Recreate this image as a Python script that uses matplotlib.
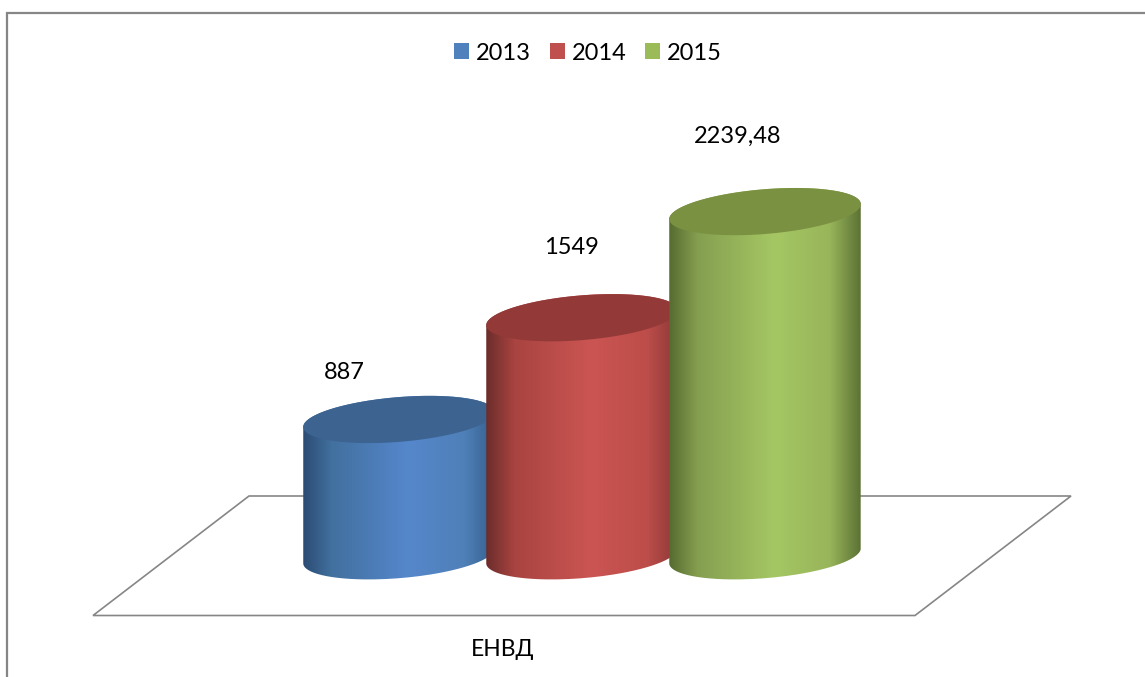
import numpy as np
import matplotlib
matplotlib.use("Agg")
import matplotlib.pyplot as plt
from matplotlib.colors import LinearSegmentedColormap
from matplotlib.patches import Patch, PathPatch, Polygon
from matplotlib.path import Path

plt.rcParams['font.family'] = ['Lato', 'Open Sans', 'DejaVu Sans']

# data
category = "ЕНВД"
years = ["2013", "2014", "2015"]
values = [887, 1549, 2239.48]
value_labels = ["887", "1549", "2239,48"]

# look
legend_colors = ["#4f81bd", "#c0504d", "#9bbb59"]
top_colors = ["#3d6391", "#933a38", "#7a9142"]
side_stops = [
	["#2b4c74", "#42709f", "#5587cc", "#4f80b8", "#36608e"],
	["#6c2d2b", "#a94441", "#cb5552", "#bd4d4a", "#8c3937"],
	["#566b30", "#859f50", "#a5c763", "#98b55a", "#5c7234"],
]
line_color = "#868686"

W, H = 1145, 677
BASE_Y = 555.8      # pixel row of value 0
PX_PER_UNIT = 0.1537
FIRST_X = 399
STEP_X = 183
RX, RY, SHEAR = 95.75, 22.4, 7.5

# label offsets from the top of each cylinder, in pixels
label_dx = [-55, -10.5, -27.5]
label_dy = [46.5, 70, 75]


def ellipse(cx, value, t):
	x = cx + RX * np.cos(t)
	y = value + (SHEAR * np.cos(t) - RY * np.sin(t)) / PX_PER_UNIT
	return x, y


def draw_cylinder(ax, cx, value, i):
	# back arc of the top, then front arc of the base
	xt, yt = ellipse(cx, value, np.linspace(np.pi, 2 * np.pi, 80))
	xb, yb = ellipse(cx, 0, np.linspace(0, np.pi, 80))
	body = np.column_stack([np.r_[xt, xb], np.r_[yt, yb]])

	cmap = LinearSegmentedColormap.from_list(
		"side", list(zip([0, 0.15, 0.55, 0.84, 1], side_stops[i])))
	grad = np.linspace(0, 1, 256).reshape(1, -1)
	im = ax.imshow(grad, cmap=cmap, aspect='auto', zorder=2 + i,
		extent=[cx - RX, cx + RX, -500, 3500], interpolation='bilinear')
	clip = PathPatch(Path(body), transform=ax.transData, fc='none', ec='none')
	ax.add_patch(clip)
	im.set_clip_path(clip)

	xe, ye = ellipse(cx, value, np.linspace(0, 2 * np.pi, 160))
	ax.add_patch(Polygon(np.column_stack([xe, ye]), closed=True,
		fc=top_colors[i], ec='none', zorder=2 + i + 0.5))


def main():
	fig = plt.figure(figsize=(W / 100, H / 100), dpi=100)

	# pixel layer for the frame, the floor and the texts around the chart
	bg = fig.add_axes([0, 0, 1, 1])
	bg.set_xlim(0, W)
	bg.set_ylim(H, 0)
	bg.axis('off')
	bg.plot([7, 7, W], [H, 13, 13], color=line_color, lw=1.6, solid_joinstyle='miter')
	bg.add_patch(Polygon([(249, 496), (1071, 496), (915, 615.5), (93, 615.5)],
		closed=True, fc='white', ec=line_color, lw=1.2))
	bg.text(503, 649, category, fontsize=16.5, ha='center', va='center', color='black')

	# value layer
	ax = fig.add_axes([0, 0, 1, 1])
	ax.patch.set_alpha(0)
	ax.axis('off')
	for i, v in enumerate(values):
		cx = FIRST_X + i * STEP_X
		draw_cylinder(ax, cx, v, i)
		ax.text(cx + label_dx[i], v + label_dy[i] / PX_PER_UNIT, value_labels[i],
			fontsize=17, ha='center', va='center', color='black', zorder=10)
	ax.set_xlim(0, W)
	ax.set_ylim((BASE_Y - H) / PX_PER_UNIT, BASE_Y / PX_PER_UNIT)

	handles = [Patch(fc=c, ec='none', label=y) for c, y in zip(legend_colors, years)]
	bg.legend(handles=handles, ncol=3, loc='center', bbox_to_anchor=(588, 53),
		bbox_transform=bg.transData, frameon=False, fontsize=17,
		handlelength=0.64, handleheight=0.64, handletextpad=0.3, columnspacing=0.78,
		borderpad=0, borderaxespad=0)

	fig.savefig("out.png", dpi=100)


if __name__ == '__main__':
	main()
